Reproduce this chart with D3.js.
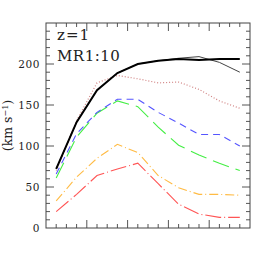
<!DOCTYPE html>
<html>
<head>
<meta charset="utf-8">
<script src="https://cdn.jsdelivr.net/npm/d3@7"></script>
<style>
  body { margin: 0; background: #fff; }
  text { font-family: "DejaVu Serif", "Liberation Serif", serif; fill: #222; }
</style>
</head>
<body>
<svg width="273" height="273"></svg>
<script>
const svg = d3.select("svg");

// data
const xs = [1, 3, 5, 7, 9, 11, 13, 15, 17, 19];
const blackThick = [72, 129, 168, 189, 200, 204, 206, 205, 206, 206];
const blackThin = [72, 129, 168, 189, 200, 204, 207, 209, 202, 190];
const redDotted = [70, 131, 177, 186, 182, 177, 178, 169, 155, 146];
const blueDashed = [66, 115, 141, 157, 157, 141, 128, 114, 114, 100];
const greenDashed = [61, 111, 140, 155, 148, 123, 101, 89, 79, 70];
const orangeDashDot = [33, 62, 85, 102, 92, 64, 49, 41, 41, 40];
const redDashDot = [20, 41, 64, 72, 79, 54, 29, 17, 13, 13];
const yTickLabels = [0, 50, 100, 150, 200];

const series = [
  { values: redDashDot, color: "#ff5555", width: 1.1, dash: "16,3,1,3" },
  { values: orangeDashDot, color: "#ffbb44", width: 1.1, dash: "9,3,1,3" },
  { values: greenDashed, color: "#44ee44", width: 1.1, dash: "17,7" },
  { values: blueDashed, color: "#5555ff", width: 1.1, dash: "7,5" },
  { values: redDotted, color: "#d08080", width: 1.2, dash: "1,2" },
  { values: blackThin, color: "#444", width: 1, dash: null },
  { values: blackThick, color: "#000", width: 2, dash: null }
];

const margin = { top: 23, right: 23, bottom: 45, left: 46 };
const innerWidth = 273 - margin.left - margin.right;
const innerHeight = 273 - margin.top - margin.bottom;

const xScale = d3.scaleLinear().domain([0, 20]).range([0, innerWidth]);
const yScale = d3.scaleLinear().domain([0, 250]).range([innerHeight, 0]);

const g = svg.append("g")
  .attr("transform", `translate(${margin.left},${margin.top})`);

// inward ticks on all four sides
const tickColor = "#555";
const xMinor = d3.range(1, 20);
const yMinor = d3.range(10, 250, 10);
const tickLen = (isMajor) => (isMajor ? 8 : 4);

xMinor.forEach(v => {
  const major = v % 4 === 0;
  const x = xScale(v);
  g.append("line").attr("x1", x).attr("x2", x)
    .attr("y1", innerHeight).attr("y2", innerHeight - tickLen(major))
    .attr("stroke", tickColor);
  g.append("line").attr("x1", x).attr("x2", x)
    .attr("y1", 0).attr("y2", tickLen(major))
    .attr("stroke", tickColor);
});

yMinor.forEach(v => {
  const major = v % 50 === 0;
  const y = yScale(v);
  g.append("line").attr("x1", 0).attr("x2", tickLen(major))
    .attr("y1", y).attr("y2", y).attr("stroke", tickColor);
  g.append("line").attr("x1", innerWidth).attr("x2", innerWidth - tickLen(major))
    .attr("y1", y).attr("y2", y).attr("stroke", tickColor);
});

g.selectAll(".ylab")
  .data(yTickLabels)
  .enter()
  .append("text")
  .attr("class", "ylab")
  .attr("x", -6)
  .attr("y", d => yScale(d))
  .attr("dy", "0.36em")
  .attr("text-anchor", "end")
  .attr("font-size", 10.5)
  .attr("letter-spacing", 0.6)
  .text(d => d);

const line = d3.line()
  .x((d, i) => xScale(xs[i]))
  .y(d => yScale(d));

series.forEach(s => {
  g.append("path")
    .datum(s.values)
    .attr("d", line)
    .attr("fill", "none")
    .attr("stroke", s.color)
    .attr("stroke-width", s.width)
    .attr("stroke-dasharray", s.dash);
});

g.append("rect")
  .attr("width", innerWidth)
  .attr("height", innerHeight)
  .attr("fill", "none")
  .attr("stroke", "#444")
  .attr("stroke-width", 1);

g.append("text")
  .attr("x", 11)
  .attr("y", 17)
  .attr("font-size", 15)
  .attr("letter-spacing", 1)
  .text("z=1");

g.append("text")
  .attr("x", 11)
  .attr("y", 38)
  .attr("font-size", 15)
  .attr("letter-spacing", 0.5)
  .text("MR1:10");

const yLabel = svg.append("text")
  .attr("transform", `translate(12,${margin.top + innerHeight / 2}) rotate(-90)`)
  .attr("text-anchor", "middle")
  .attr("font-size", 12.5);
yLabel.append("tspan").text("(km s");
yLabel.append("tspan").attr("dy", -4).attr("font-size", 8).text("−1");
yLabel.append("tspan").attr("dy", 4).text(")");
</script>
</body>
</html>
